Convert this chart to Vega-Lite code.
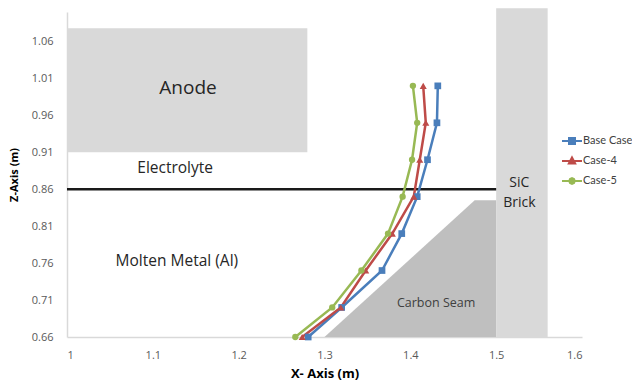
{
  "$schema": "https://vega.github.io/schema/vega-lite/v6.json",
  "width": 515,
  "height": 325,
  "autosize": {"type": "none"},
  "padding": {"left": 67, "top": 12, "right": 50, "bottom": 46},
  "background": "white",
  "config": {
    "font": "Open Sans",
    "view": {"stroke": null},
    "axis": {"grid": false, "ticks": false, "labelColor": "#595959", "labelFontSize": 11, "domainColor": "#d9d9d9", "domainWidth": 1.5, "titleFontWeight": "bold", "titleFontSize": 11, "titleColor": "#000000"},
    "axisX": {"labelPadding": 12, "titlePadding": 7, "titleFontSize": 13},
    "axisY": {"labelPadding": 14, "titlePadding": 12},
    "legend": {"orient": "none", "legendX": 494, "legendY": 118, "symbolSize": 400, "symbolStrokeWidth": 2, "symbolOpacity": 1, "labelFont": "Lato", "labelFontSize": 11, "labelColor": "#404040", "rowPadding": 2, "labelOffset": 0}
  },
  "datasets": {
    "regions": [
      {"name": "Anode", "x": 1.0, "x2": 1.28, "z": 0.91, "z2": 1.078},
      {"name": "SiC Brick", "x": 1.5, "x2": 1.56, "z": 0.66, "z2": 1.105}
    ],
    "seam": [
      {"x": 1.30, "z": 0.66},
      {"x": 1.475, "z": 0.845},
      {"x": 1.5, "z": 0.845}
    ],
    "boundary": [
      {"x": 1.0, "x2": 1.5, "z": 0.86}
    ],
    "labels": [
      {"label": "Anode", "x": 1.141, "z": 0.997},
      {"label": "Electrolyte", "x": 1.126, "z": 0.889},
      {"label": "Molten Metal (Al)", "x": 1.128, "z": 0.763},
      {"label": "SiC\nBrick", "x": 1.527, "z": 0.868},
      {"label": "Carbon Seam", "x": 1.43, "z": 0.706}
    ],
    "series": [
      {"series": "Base Case", "x": 1.432, "z": 1.00},
      {"series": "Base Case", "x": 1.431, "z": 0.95},
      {"series": "Base Case", "x": 1.420, "z": 0.90},
      {"series": "Base Case", "x": 1.408, "z": 0.85},
      {"series": "Base Case", "x": 1.390, "z": 0.80},
      {"series": "Base Case", "x": 1.367, "z": 0.75},
      {"series": "Base Case", "x": 1.320, "z": 0.70},
      {"series": "Base Case", "x": 1.281, "z": 0.66},
      {"series": "Case-4", "x": 1.415, "z": 1.00},
      {"series": "Case-4", "x": 1.418, "z": 0.95},
      {"series": "Case-4", "x": 1.411, "z": 0.90},
      {"series": "Case-4", "x": 1.404, "z": 0.85},
      {"series": "Case-4", "x": 1.379, "z": 0.80},
      {"series": "Case-4", "x": 1.348, "z": 0.75},
      {"series": "Case-4", "x": 1.319, "z": 0.70},
      {"series": "Case-4", "x": 1.274, "z": 0.66},
      {"series": "Case-5", "x": 1.403, "z": 1.00},
      {"series": "Case-5", "x": 1.408, "z": 0.95},
      {"series": "Case-5", "x": 1.402, "z": 0.90},
      {"series": "Case-5", "x": 1.391, "z": 0.85},
      {"series": "Case-5", "x": 1.374, "z": 0.80},
      {"series": "Case-5", "x": 1.343, "z": 0.75},
      {"series": "Case-5", "x": 1.309, "z": 0.70},
      {"series": "Case-5", "x": 1.266, "z": 0.66}
    ]
  },
  "encoding": {
    "x": {"field": "x", "type": "quantitative", "scale": {"domain": [1, 1.6], "nice": false, "zero": false}, "axis": {"values": [1, 1.1, 1.2, 1.3, 1.4, 1.5, 1.6], "format": "~g", "title": "X- Axis (m)"}},
    "y": {"field": "z", "type": "quantitative", "scale": {"domain": [0.66, 1.1], "nice": false, "zero": false}, "axis": {"values": [0.66, 0.71, 0.76, 0.81, 0.86, 0.91, 0.96, 1.01, 1.06], "format": ".2f", "title": "Z-Axis (m)"}}
  },
  "layer": [
    {
      "data": {"name": "seam"},
      "mark": {"type": "area", "color": "#bfbfbf", "clip": false},
      "encoding": {"y2": {"datum": 0.66}}
    },
    {
      "data": {"name": "regions"},
      "mark": {"type": "rect", "color": "#d9d9d9", "clip": false},
      "encoding": {"x2": {"field": "x2"}, "y2": {"field": "z2"}}
    },
    {
      "data": {"name": "boundary"},
      "mark": {"type": "rule", "color": "#1a1a1a", "strokeWidth": 2.5},
      "encoding": {"x2": {"field": "x2"}}
    },
    {
      "data": {"name": "series"},
      "transform": [{"filter": "datum.series == 'Base Case'"}],
      "mark": {"type": "line", "strokeWidth": 2.5, "color": "#4a7ebb"},
      "encoding": {"order": {"field": "z", "type": "quantitative"}}
    },
    {
      "data": {"name": "series"},
      "transform": [{"filter": "datum.series == 'Case-4'"}],
      "mark": {"type": "line", "strokeWidth": 2.5, "color": "#be4b48"},
      "encoding": {"order": {"field": "z", "type": "quantitative"}}
    },
    {
      "data": {"name": "series"},
      "transform": [{"filter": "datum.series == 'Case-5'"}],
      "mark": {"type": "line", "strokeWidth": 2.5, "color": "#98b954"},
      "encoding": {"order": {"field": "z", "type": "quantitative"}}
    },
    {
      "data": {"name": "series"},
      "transform": [{"filter": "datum.series == 'Base Case'"}],
      "mark": {"type": "point", "filled": true, "opacity": 1, "size": 45, "shape": "square", "color": "#4a7ebb"}
    },
    {
      "data": {"name": "series"},
      "transform": [{"filter": "datum.series == 'Case-4'"}],
      "mark": {"type": "point", "filled": true, "opacity": 1, "size": 50, "shape": "triangle-up", "color": "#be4b48"}
    },
    {
      "data": {"name": "series"},
      "transform": [{"filter": "datum.series == 'Case-5'"}],
      "mark": {"type": "point", "filled": true, "opacity": 1, "size": 40, "shape": "circle", "color": "#98b954"}
    },
    {
      "data": {"name": "series"},
      "mark": {"type": "point", "filled": true, "opacity": 0, "strokeWidth": 2},
      "encoding": {
        "fill": {"field": "series", "type": "nominal", "scale": {"domain": ["Base Case", "Case-4", "Case-5"], "range": ["#4a7ebb", "#be4b48", "#98b954"]}, "title": null},
        "stroke": {"field": "series", "type": "nominal", "scale": {"domain": ["Base Case", "Case-4", "Case-5"], "range": ["#4a7ebb", "#be4b48", "#98b954"]}, "title": null},
        "shape": {"field": "series", "type": "nominal", "title": null,
          "scale": {"domain": ["Base Case", "Case-4", "Case-5"], "range": [
            "M-1,0L1,0M-0.3,-0.3L0.3,-0.3L0.3,0.3L-0.3,0.3Z",
            "M-1,0L1,0M0,-0.36L0.32,0.26L-0.32,0.26Z",
            "M-1,0L1,0M-0.28,0L-0.2,-0.2L0,-0.28L0.2,-0.2L0.28,0L0.2,0.2L0,0.28L-0.2,0.2Z"
          ]}
        }
      }
    },
    {
      "data": {"name": "labels"},
      "transform": [{"filter": "datum.label == 'Anode'"}],
      "mark": {"type": "text", "fontSize": 19, "color": "#262626"},
      "encoding": {"text": {"field": "label"}}
    },
    {
      "data": {"name": "labels"},
      "transform": [{"filter": "datum.label == 'Electrolyte' || datum.label == 'Molten Metal (Al)'"}],
      "mark": {"type": "text", "fontSize": 15.5, "color": "#262626"},
      "encoding": {"text": {"field": "label"}}
    },
    {
      "data": {"name": "labels"},
      "transform": [{"filter": "datum.label == 'SiC\\nBrick'"}],
      "mark": {"type": "text", "fontSize": 14, "color": "#262626", "lineBreak": "\n", "lineHeight": 20},
      "encoding": {"text": {"field": "label"}}
    },
    {
      "data": {"name": "labels"},
      "transform": [{"filter": "datum.label == 'Carbon Seam'"}],
      "mark": {"type": "text", "fontSize": 12.5, "color": "#404040"},
      "encoding": {"text": {"field": "label"}}
    }
  ]
}
